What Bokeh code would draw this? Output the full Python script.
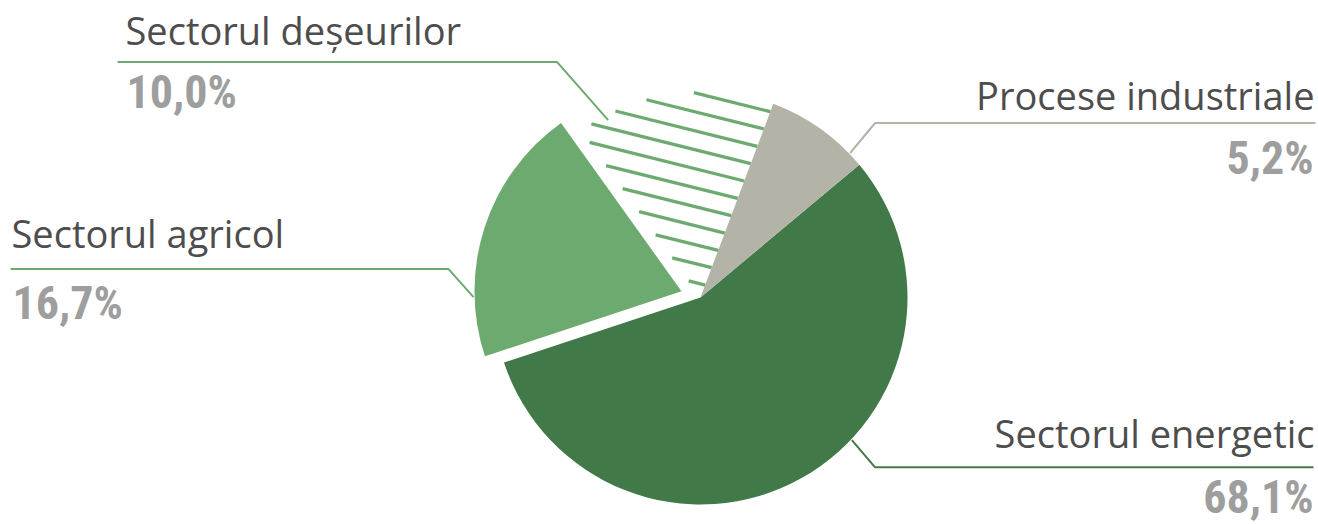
import math
from bokeh.plotting import figure
from bokeh.models import Range1d
from bokeh.core.properties import value
from bokeh.embed import file_html
from bokeh.resources import INLINE

# ---------------- data ----------------
sectors = ["Sectorul energetic", "Procese industriale", "Sectorul deșeurilor", "Sectorul agricol"]
pct_labels = ["68,1%", "5,2%", "10,0%", "16,7%"]
# slice sizes as drawn in the picture (percent of the full circle)
slice_share = [56.0, 8.2, 15.6, 20.2]
slice_colors = ["#417A48", "#B3B4A7", "#FFFFFF", "#6DAA70"]
leader_colors = ["#417A48", "#B3B4A7", "#6DAA70", "#6DAA70"]

# ---------------- layout ----------------
W, H = 1318, 524
CX, CY, R = 700.0, -297.0, 207.0
START_DEG = 198.3
EXPLODE = [0, 0, 0, 20]
HATCH_INDEX = 2
HATCH_ANGLE = -14.0
HATCH_SPACING = 18.4
HATCH_PHASE = 13.2

leader_angle = [-43.3, 44.0, 117.5, 181.6]
leader_radius = [208, 208, 200, 208]
leader_elbow = [(23, -27), (25, 30), (-51, 58), (-25, 28)]
leader_end_x = [1313, 1315, 117, 10]

LABEL_SIZE = 38
PCT_SIZE = 46
BASE_FIX = 0.4   # baseline correction (fraction of font size)
label_x = [1314, 1314, 125, 11]
label_y = [-448, -110, -45, -248]
pct_x = [1313, 1313, 126, 12]
pct_y = [-515, -176, -110, -321]
align = ["right", "right", "left", "left"]
PCT_FONT = "Roboto Condensed"
LABEL_FONT = "Open Sans"

p = figure(width=W, height=H, output_backend="svg", toolbar_location=None, title=None,
           x_range=Range1d(0, W), y_range=Range1d(-H, 0),
           x_axis_type=None, y_axis_type=None, min_border=0)
p.grid.visible = False
p.outline_line_color = None
p.background_fill_color = "white"
p.border_fill_color = "white"

total = sum(slice_share)
starts, ends, mids = [], [], []
acc = math.radians(START_DEG)
for s in slice_share:
    a = 2 * math.pi * s / total
    starts.append(acc)
    ends.append(acc + a)
    mids.append(acc + a / 2)
    acc += a

centers = []
for i in range(len(sectors)):
    centers.append((CX + EXPLODE[i] * math.cos(mids[i]), CY + EXPLODE[i] * math.sin(mids[i])))

for i in range(len(sectors)):
    if i == HATCH_INDEX:
        continue
    p.wedge(x=[centers[i][0]], y=[centers[i][1]], radius=R,
            start_angle=[starts[i]], end_angle=[ends[i]], direction="anticlock",
            fill_color=slice_colors[i], line_color=None)

hc = centers[HATCH_INDEX]
th = math.radians(HATCH_ANGLE)
d = (math.cos(th), math.sin(th))
n = (-math.sin(th), math.cos(th))
u0 = (math.cos(starts[HATCH_INDEX]), math.sin(starts[HATCH_INDEX]))
u1 = (math.cos(ends[HATCH_INDEX]), math.sin(ends[HATCH_INDEX]))


def cross(a, b):
    return a[0] * b[1] - a[1] * b[0]


Rh = R - 2
hx0, hy0, hx1, hy1 = [], [], [], []
for k in range(-30, 31):
    h = HATCH_PHASE + k * HATCH_SPACING
    if abs(h) >= Rh:
        continue
    tm = math.sqrt(Rh * Rh - h * h)
    lo, hi = -tm, tm
    ok = True
    for u, sg in ((u0, 1.0), (u1, -1.0)):
        A = sg * h * cross(u, n)
        B = sg * cross(u, d)
        if abs(B) < 1e-12:
            if A < 0:
                ok = False
        elif B > 0:
            lo = max(lo, -A / B)
        else:
            hi = min(hi, -A / B)
    if ok and hi > lo + 1:
        bx = hc[0] + h * n[0]
        by = hc[1] + h * n[1]
        hx0.append(bx + lo * d[0]); hy0.append(by + lo * d[1])
        hx1.append(bx + hi * d[0]); hy1.append(by + hi * d[1])
p.segment(x0=hx0, y0=hy0, x1=hx1, y1=hy1, line_color="#6DAA70", line_width=3.3, line_cap="butt")

for i in range(len(sectors)):
    cx, cy = centers[i]
    a = math.radians(leader_angle[i])
    px = cx + leader_radius[i] * math.cos(a)
    py = cy + leader_radius[i] * math.sin(a)
    ex = px + leader_elbow[i][0]
    ey = py + leader_elbow[i][1]
    p.line(x=[px, ex, leader_end_x[i]], y=[py, ey, ey], line_color=leader_colors[i], line_width=2)

for i in range(len(sectors)):
    p.text(x=[label_x[i]], y=[label_y[i] + BASE_FIX * LABEL_SIZE], text=[sectors[i]],
           text_font=value(LABEL_FONT), text_font_size=f"{LABEL_SIZE}px", text_color="#4D4D4D",
           text_align=align[i], text_baseline="alphabetic")
    p.text(x=[pct_x[i]], y=[pct_y[i] + BASE_FIX * PCT_SIZE], text=[pct_labels[i]],
           text_font=value(PCT_FONT), text_font_style="bold", text_font_size=f"{PCT_SIZE}px",
           text_color="#9E9E9E", text_align=align[i], text_baseline="alphabetic")

open("out.html", "w").write(file_html(p, INLINE))
